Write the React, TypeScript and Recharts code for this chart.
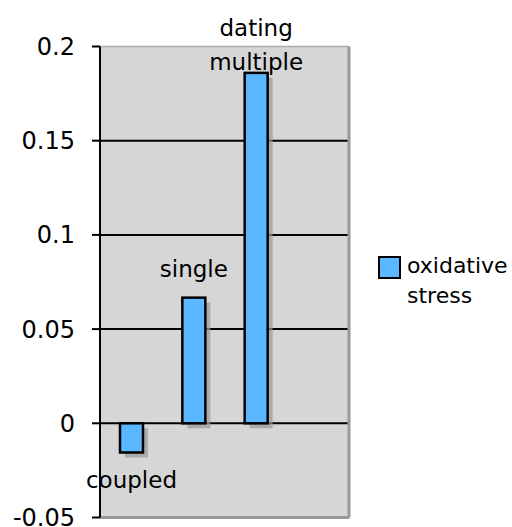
import { BarChart, Bar, XAxis, YAxis, CartesianGrid, LabelList, Legend } from "recharts";

const groups = ["coupled", "single", "dating multiple"];
const oxidativeStress = [-0.0155, 0.0667, 0.186];
const yTicks = [-0.05, 0, 0.05, 0.1, 0.15, 0.2];
const gridValues = [0, 0.05, 0.1, 0.15];

const data = groups.map((g, i) => ({ group: g, stress: oxidativeStress[i] }));

const FONT = "'DejaVu Sans', Verdana, sans-serif";
const BLUE = "#59B8FF";
const FRAME = "#999";

// gap between bar end and label baseline, label placement in original was hand-tuned
const labelGap: Record<string, number> = {
  coupled: 35,
  single: 21,
  "dating multiple": 3,
};

function ShadowBar(props: any) {
  const { x, y, width, height } = props;
  const top = Math.min(y, y + height);
  const h = Math.abs(height);
  return (
    <g>
      <rect x={x + 5} y={top + 5} width={width} height={h} fill="#999" fillOpacity={0.7} />
      <rect x={x} y={top} width={width} height={h} fill={BLUE} stroke="#000" strokeWidth={2.5} />
    </g>
  );
}

function GroupLabel(props: any) {
  const { x, y, width, height, value, index } = props;
  const cx = x + width / 2;
  const top = Math.min(y, y + height);
  const bottom = Math.max(y, y + height);
  const neg = oxidativeStress[index] < 0;
  const lines = String(value).split(" ");
  const gap = labelGap[value] ?? 10;
  const lineH = 34;
  if (neg) {
    return (
      <text x={cx} y={bottom + gap} textAnchor="middle" fontSize={23} fontFamily={FONT} fill="#000">
        {value}
      </text>
    );
  }
  return (
    <text textAnchor="middle" fontSize={23} fontFamily={FONT} fill="#000">
      {lines.map((l, i) => (
        <tspan key={i} x={cx} y={top - gap - (lines.length - 1 - i) * lineH}>
          {l}
        </tspan>
      ))}
    </text>
  );
}

function LegendBox() {
  return (
    <div style={{ display: "flex", alignItems: "flex-start", fontFamily: FONT, fontSize: 22, color: "#000" }}>
      <div style={{ width: 19, height: 19, background: BLUE, border: "2px solid #000", marginTop: 1, marginRight: 6 }} />
      <div style={{ lineHeight: "30px", textAlign: "left", marginTop: -4 }}>
        oxidative
        <br />
        stress
      </div>
    </div>
  );
}

export default function App() {
  return (
    <div style={{ position: "absolute", left: 0, top: 0, width: 512, height: 527, background: "#fff" }}>
      <BarChart width={512} height={527} data={data} margin={{ top: 45.5, right: 28, bottom: 8.5, left: 0 }}>
        <CartesianGrid vertical={false} horizontalValues={gridValues} stroke="#000" strokeWidth={2} fill="#D6D6D6" fillOpacity={1} />
        <XAxis
          dataKey="group"
          height={1}
          tick={false}
          tickLine={false}
          axisLine={{ stroke: FRAME, strokeWidth: 3 }}
          padding={{ left: 0, right: 62 }}
        />
        <XAxis xAxisId="top" orientation="top" dataKey="group" height={1} tick={false} tickLine={false} axisLine={{ stroke: "#aaa", strokeWidth: 1.5 }} />
        <YAxis yAxisId="frame" orientation="right" width={1} tick={false} tickLine={false} axisLine={{ stroke: FRAME, strokeWidth: 3 }} />
        <YAxis
          width={100}
          domain={[-0.05, 0.2]}
          ticks={yTicks}
          interval={0}
          allowDataOverflow
          tickFormatter={(v: number) => String(v)}
          axisLine={{ stroke: "#000", strokeWidth: 2 }}
          tickLine={{ stroke: "#000", strokeWidth: 2 }}
          tickSize={8}
          tickMargin={17}
          tick={{ fill: "#000", fontSize: 24, fontFamily: FONT }}
        />
        <Legend
          layout="vertical"
          align="right"
          verticalAlign="top"
          content={() => <LegendBox />}
          wrapperStyle={{ left: 378, top: 255, width: 134 }}
        />
        <Bar dataKey="stress" barSize={23} shape={ShadowBar} isAnimationActive={false}>
          <LabelList dataKey="group" content={GroupLabel} />
        </Bar>
      </BarChart>
    </div>
  );
}
